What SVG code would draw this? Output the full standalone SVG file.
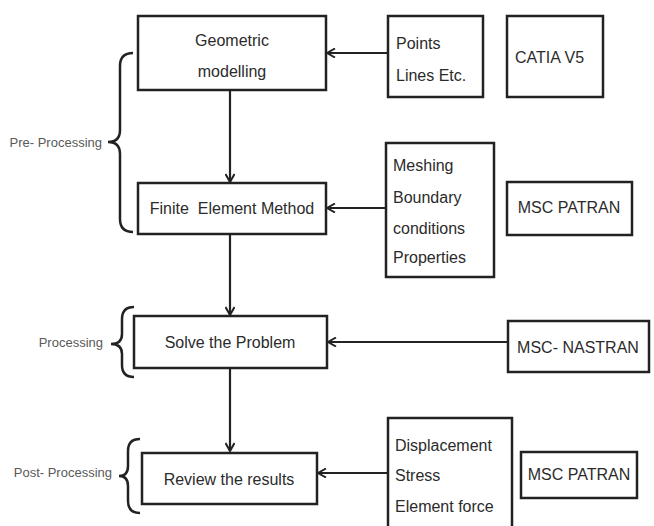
<svg xmlns="http://www.w3.org/2000/svg" width="654" height="526" viewBox="0 0 654 526">
<defs>
<style>
.box{fill:#fff;stroke:#222;stroke-width:2.5}
.t{font-family:"Liberation Sans",Arial,sans-serif;fill:#2b2b2b;font-size:16px;white-space:pre}
.c{text-anchor:middle}
.lab{font-family:"Liberation Sans",Arial,sans-serif;fill:#5a5a5a;font-size:13px;text-anchor:end;white-space:pre}
.ln{stroke:#222;stroke-width:2.2;fill:none}
.br{stroke:#222;stroke-width:2.5;fill:none}
</style>
<marker id="ah" viewBox="0 0 10 10" refX="9" refY="5" markerWidth="10" markerHeight="10" markerUnits="userSpaceOnUse" orient="auto">
<path d="M1,0.5 L9,5 L1,9.5" fill="none" stroke="#222" stroke-width="2"/>
</marker>
</defs>
<rect width="654" height="526" fill="#fff"/>

<g id="connectors">
<line class="ln" x1="230" y1="90" x2="230" y2="182" marker-end="url(#ah)"/>
<line class="ln" x1="388" y1="53" x2="327" y2="53" marker-end="url(#ah)"/>
<line class="ln" x1="386" y1="208" x2="327" y2="208" marker-end="url(#ah)"/>
<line class="ln" x1="230" y1="234" x2="230" y2="315" marker-end="url(#ah)"/>
<line class="ln" x1="508" y1="342" x2="328" y2="342" marker-end="url(#ah)"/>
<line class="ln" x1="230" y1="368" x2="230" y2="451" marker-end="url(#ah)"/>
<line class="ln" x1="388" y1="473" x2="318" y2="473" marker-end="url(#ah)"/>
</g>

<g id="pre-processing">
<path class="br" d="M133,53 Q120,53 120,66 L120,130 Q120,142 108,142 Q120,142 120,154 L120,219 Q120,232 133,232"/>
<text class="lab" x="102" y="147">Pre- Processing</text>
</g>
<g id="processing">
<path class="br" d="M134,307 Q122,307 122,319 L122,334 Q122,344 111,344 Q122,344 122,354 L122,365 Q122,377 134,377"/>
<text class="lab" x="103" y="347">Processing</text>
</g>
<g id="post-processing">
<path class="br" d="M140,439 Q128,439 128,451 L128,466 Q128,476 119,476 Q128,476 128,486 L128,501 Q128,513 140,513"/>
<text class="lab" x="112" y="477">Post- Processing</text>
</g>

<g id="geometric">
<rect class="box" x="138" y="16" width="188" height="74"/>
<text class="t c" x="232" y="46" font-size="16.5">Geometric</text>
<text class="t c" x="232" y="77" font-size="16.5">modelling</text>
</g>
<g id="fem">
<rect class="box" x="138" y="183" width="188" height="51"/>
<text class="t c" x="232" y="214" font-size="16.5">Finite  Element Method</text>
</g>
<g id="solve">
<rect class="box" x="134" y="316" width="193" height="52"/>
<text class="t c" x="230" y="348">Solve the Problem</text>
</g>
<g id="review">
<rect class="box" x="142" y="453" width="175" height="51"/>
<text class="t c" x="229" y="485" font-size="15.5">Review the results</text>
</g>

<g id="points">
<rect class="box" x="388" y="16" width="95" height="81"/>
<text class="t" x="396" y="49">Points</text>
<text class="t" x="396" y="81">Lines Etc.</text>
</g>
<g id="catia">
<rect class="box" x="507" y="16" width="96" height="81"/>
<text class="t" x="515" y="63" font-size="15">CATIA V5</text>
</g>
<g id="meshing">
<rect class="box" x="386" y="143" width="108" height="134"/>
<text class="t" x="393" y="171">Meshing</text>
<text class="t" x="393" y="203">Boundary</text>
<text class="t" x="393" y="234">conditions</text>
<text class="t" x="393" y="263">Properties</text>
</g>
<g id="patran1">
<rect class="box" x="507" y="182" width="125" height="53"/>
<text class="t c" x="569" y="213" font-size="14.5">MSC PATRAN</text>
</g>
<g id="nastran">
<rect class="box" x="508" y="321" width="141" height="51"/>
<text class="t c" x="578" y="353" font-size="15">MSC- NASTRAN</text>
</g>
<g id="results">
<rect class="box" x="388" y="418" width="124" height="130"/>
<text class="t" x="395" y="451">Displacement</text>
<text class="t" x="395" y="481">Stress</text>
<text class="t" x="395" y="512">Element force</text>
</g>
<g id="patran2">
<rect class="box" x="521" y="452" width="116" height="46"/>
<text class="t c" x="579" y="480" font-size="14.5">MSC PATRAN</text>
</g>
</svg>
